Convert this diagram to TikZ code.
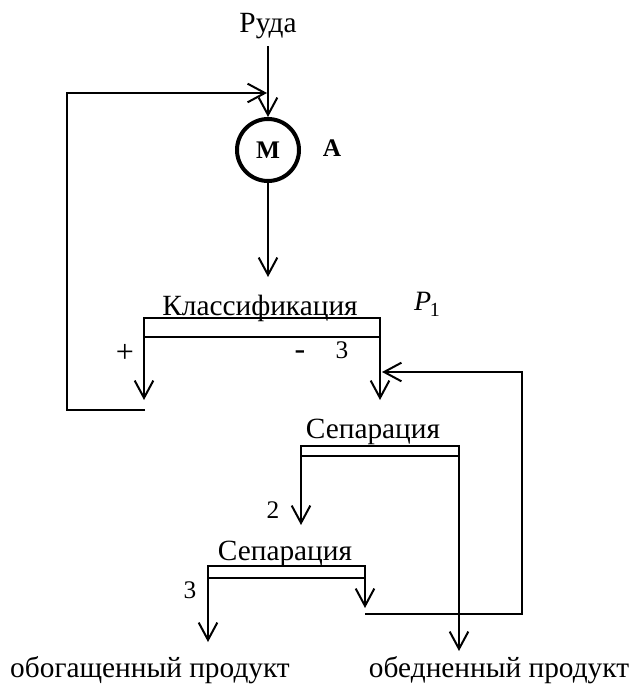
\documentclass[tikz,border=0pt]{standalone}
\usepackage{fontspec}
\setmainfont{Liberation Serif}
\usetikzlibrary{arrows.meta}
\begin{document}
\begin{tikzpicture}[x=0.75pt,y=-0.75pt,
  flow/.style={line width=1.5pt},
  arr/.style={flow,-{Straight Barb[length=13pt,width=14pt,line width=1.5pt]}},
  lbl/.style={inner sep=0pt,anchor=base,font=\fontsize{22}{26}\selectfont},
  num/.style={inner sep=0pt,anchor=base,font=\fontsize{19}{22}\selectfont},
  sign/.style={inner sep=0pt,font=\fontsize{24}{28}\selectfont},
  heavy/.style={inner sep=0pt,font=\bfseries\fontsize{19}{22}\selectfont},
  bar/.style={draw,line width=1.5pt,inner sep=0pt,outer sep=0pt},
 ]
\useasboundingbox (0,0) rectangle (629,684);

% feed and mill
\node[lbl] (ore) at (268,33) {Руда};
\node[draw,circle,line width=3pt,minimum size=46.5pt,heavy] (mill) at (268,150) {М};
\node[heavy,anchor=base] (tagA) at (332,157) {А};
\draw[arr] ([yshift=-5pt]ore.south) -- (mill.north);

% classifier
\coordinate (clsIn) at (268,277);
\draw[arr] (mill.south) -- (clsIn);
\node[lbl] (clsT) at (260,315) {Классификация};
\node[inner sep=0pt,anchor=base,font=\fontsize{21}{24}\selectfont] (p1) at (427,310)
  {\itshape P\kern-1pt\raisebox{-5pt}{\upshape\fontsize{15}{17}\selectfont 1}};
\node[bar,minimum width=177pt,minimum height=14.25pt] (cls) at (262,327.5) {};
\coordinate (clsL) at (144,400);
\coordinate (clsR) at (380,400);
\draw[arr] (cls.north west) -- (clsL);
\draw[arr] (cls.north east) -- (clsR);
\node[sign] (plus) at (125,353) {+};
\node[sign] (minus) at (300,355) {-};
\node[num] (n3a) at (342,358) {3};

% oversize returns to the mill
\coordinate (recBot) at (67,410);
\coordinate (plusEnd) at (145,410);
\coordinate (recTop) at (67,93);
\coordinate (feedIn) at (267,93);
\draw[arr] (plusEnd) -- (recBot) -- (recTop) -- (feedIn);

% first separation
\node[lbl] (sep1T) at (373,438) {Сепарация};
\node[bar,minimum width=118.5pt,minimum height=7.5pt] (sep1) at (380,451) {};
\coordinate (sep1L) at (301,525);
\coordinate (sep1R) at (459,651);
\draw[arr] (sep1.north west) -- (sep1L);
\draw[arr] (sep1.north east) -- (sep1R);
\node[num] (n2) at (273,518) {2};

% second separation
\node[lbl] (sep2T) at (285,560) {Сепарация};
\node[bar,minimum width=117.75pt,minimum height=9pt] (sep2) at (286.5,572) {};
\coordinate (sep2L) at (208,642);
\coordinate (sep2R) at (365,608);
\draw[arr] (sep2.north west) -- (sep2L);
\draw[arr] (sep2.north east) -- (sep2R);
\node[num] (n3b) at (190,598) {3};

% middlings return to the first separation feed
\coordinate (midStart) at (365,614);
\coordinate (midCorner) at (522,614);
\coordinate (midTop) at (522,372);
\coordinate (midIn) at (382,372);
\draw[arr] (midStart) -- (midCorner) -- (midTop) -- (midIn);

% products
\node[lbl] (rich) at (150,677) {обогащенный продукт};
\node[lbl] (lean) at (499,677) {обедненный продукт};
\end{tikzpicture}
\end{document}
